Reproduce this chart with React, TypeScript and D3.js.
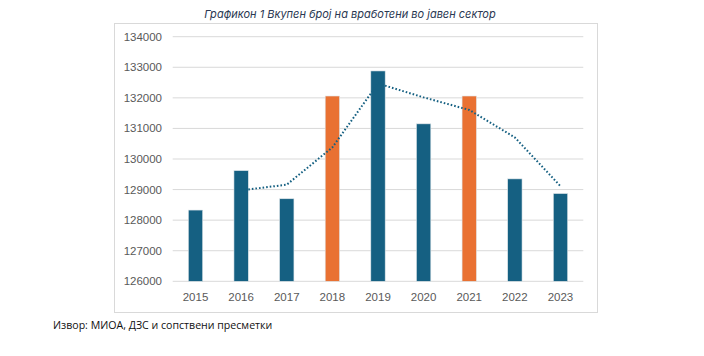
import React from "react";
import * as d3 from "d3";

const years = ["2015", "2016", "2017", "2018", "2019", "2020", "2021", "2022", "2023"];
const employees = [128330, 129620, 128700, 132060, 132880, 131150, 132060, 129350, 128870];
const highlighted = ["2018", "2021"];
const trendYears = ["2016", "2017", "2018", "2019", "2020", "2021", "2022", "2023"];
const trendValues = [128975, 129160, 130380, 132470, 132015, 131605, 130705, 129110];
const yTicks = [126000, 127000, 128000, 129000, 130000, 131000, 132000, 133000, 134000];
const title = "Графикон 1 Вкупен број на вработени во јавен сектор";
const source = "Извор: МИОА, ДЗС и сопствени пресметки";

const W = 704;
const H = 356;
const plotLeft = 172.7;
const plotRight = 583.3;
const plotTop = 36.7;
const plotBottom = 281.3;

export default function App() {
  const x = d3.scaleBand<string>().domain(years).range([plotLeft, plotRight]).paddingInner(0).paddingOuter(0);
  const y = d3.scaleLinear().domain([126000, 134000]).range([plotBottom, plotTop]);
  const step = x.step();
  const barW = step * 0.315;
  const cx = (yr: string) => (x(yr) as number) + step / 2;

  const line = d3
    .line<number>()
    .x((_, i) => cx(trendYears[i]))
    .y((d) => y(d));

  const font = "'Liberation Sans', Arial, sans-serif";

  return (
    <svg
      width={W}
      height={H}
      style={{ position: "absolute", left: 0, top: 0, background: "#fff" }}
    >
      <text
        x={350}
        y={17.5}
        textAnchor="middle"
        fontFamily="Inter, 'Liberation Sans', sans-serif"
        fontStyle="italic"
        fontSize={11}
        fill="#2a3852"
      >
        {title}
      </text>
      <rect x={114.5} y={23.5} width={483} height={289} fill="none" stroke="#d9d9d9" strokeWidth={1} />
      {yTicks.map((t) => (
        <g key={t}>
          <line x1={plotLeft} x2={plotRight} y1={y(t)} y2={y(t)} stroke="#d9d9d9" strokeWidth={1} />
          <text
            x={162}
            y={y(t)}
            dy="0.35em"
            textAnchor="end"
            fontFamily={font}
            fontSize={11.5}
            fill="#595959"
          >
            {t}
          </text>
        </g>
      ))}
      {years.map((yr, i) => (
        <g key={yr}>
          <rect
            x={cx(yr) - barW / 2}
            y={y(employees[i])}
            width={barW}
            height={plotBottom - y(employees[i])}
            fill={highlighted.includes(yr) ? "#E97132" : "#156082"}
            stroke="#dfe6ea"
            strokeWidth={0.6}
          />
          <text
            x={cx(yr)}
            y={plotBottom + 15.5}
            dy="0.35em"
            textAnchor="middle"
            fontFamily={font}
            fontSize={11.5}
            fill="#595959"
          >
            {yr}
          </text>
        </g>
      ))}
      <path
        d={line(trendValues) || ""}
        fill="none"
        stroke="#156082"
        strokeWidth={2}
        strokeDasharray="1.6 2"
      />
      <text x={53} y={329} fontFamily="'Open Sans', 'Noto Sans', sans-serif" fontSize={10.6} fill="#111">
        {source}
      </text>
    </svg>
  );
}
